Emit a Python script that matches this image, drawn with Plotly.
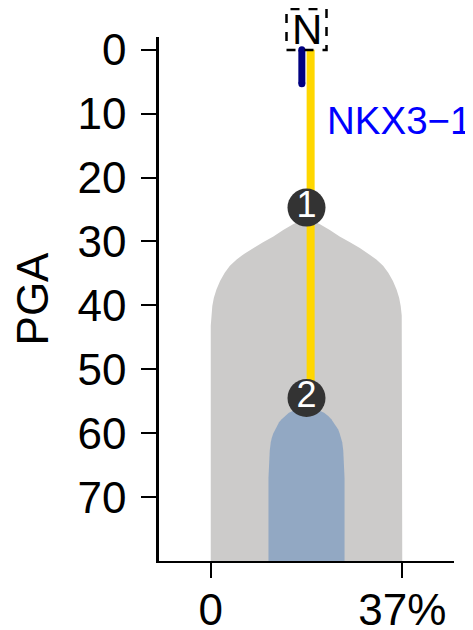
import plotly.graph_objects as go

# ---- data ----
x_max = 37.0                      # clone-fraction axis max (%)
x_tickvals = [0, 37]
x_ticktext = ["0", "37%"]
y_tickvals = [0, 10, 20, 30, 40, 50, 60, 70]
pga_max = 80

# gray clone (clone 1) profile: PGA vs half-width (% units)
gray_pga = [26.3, 27.3, 28.2, 29.2, 30.1, 31.0, 31.9, 32.8, 33.8, 34.9, 36.2, 37.5, 38.8, 40.1, 41.6, 43.2, 45.0, 80.0]
gray_hw = [0.0, 2.6, 4.5, 6.4, 8.4, 10.3, 12.0, 13.5, 14.8, 15.8, 16.7, 17.4, 17.9, 18.2, 18.4, 18.5, 18.5, 18.5]

# blue clone (clone 2) profile
blue_pga = [55.9, 56.2, 56.8, 57.3, 57.8, 58.3, 58.9, 59.4, 60.0, 60.7, 61.4, 62.7, 64.1, 67.0, 80.0]
blue_hw = [0.0, 1.8, 3.4, 4.2, 4.8, 5.3, 5.7, 6.1, 6.4, 6.7, 6.9, 7.1, 7.2, 7.35, 7.35]

# lineage lines
yellow_x = 19.3
yellow_pga = [0.0, 54.5]
navy_x = 17.6
navy_pga = [0.0, 5.3]

# clone event markers
event_x = [18.5, 18.5]
event_pga = [24.7, 54.5]
event_labels = ["1", "2"]

gene_label = "NKX3\u22121"
gene_x = 22.0
gene_pga = 11.1

root_label = "N"

center = x_max / 2


def outline(pga, hw):
    xs = [center - h for h in hw] + [center + h for h in reversed(hw)]
    ys = list(pga) + list(reversed(pga))
    return xs, ys


FONT = "Liberation Sans, Arial, sans-serif"

# page body has an 8px margin, so the figure is sized to fit the window
PAGE_OFF = 8
WIN_W, WIN_H = 473, 630
FIG_W, FIG_H = WIN_W - PAGE_OFF, WIN_H - PAGE_OFF
# plot area edges in window pixels
plot_l, plot_r, plot_t, plot_b = 159, 454, 37, 561
x_lo, x_hi = -10, 47

fig = go.Figure()

gx, gy = outline(gray_pga, gray_hw)
fig.add_trace(go.Scatter(x=gx, y=gy, fill="toself", fillcolor="#CCCBCA",
                         line=dict(width=0, color="#CCCBCA"),
                         mode="lines", hoverinfo="skip", showlegend=False))
bx, by = outline(blue_pga, blue_hw)
fig.add_trace(go.Scatter(x=bx, y=by, fill="toself", fillcolor="#92A8C3",
                         line=dict(width=0, color="#92A8C3"),
                         mode="lines", hoverinfo="skip", showlegend=False))

fig.add_trace(go.Scatter(x=[yellow_x] * len(yellow_pga), y=yellow_pga, mode="lines",
                         line=dict(color="#FFD700", width=8), hoverinfo="skip", showlegend=False))
fig.add_trace(go.Scatter(x=[navy_x] * len(navy_pga), y=navy_pga, mode="lines+markers",
                         line=dict(color="#000080", width=7),
                         marker=dict(color="#000080", size=7, line=dict(width=0)),
                         hoverinfo="skip", showlegend=False))

fig.add_trace(go.Scatter(x=event_x, y=event_pga, mode="markers+text",
                         marker=dict(color="#333333", size=38, line=dict(width=0)),
                         text=event_labels, textposition="middle center",
                         textfont=dict(color="white", size=36, family=FONT),
                         hoverinfo="skip", showlegend=False))

fig.add_annotation(x=gene_x, y=gene_pga, xref="x", yref="y", text=gene_label,
                   showarrow=False, xanchor="left", yanchor="middle",
                   font=dict(color="#0000FF", size=38.5, family=FONT))

# root label above the plotting area
root_px_y = 29.5
root_paper_y = (plot_b - root_px_y) / (plot_b - plot_t)
fig.add_annotation(x=center, y=root_paper_y, xref="x", yref="paper", text=root_label,
                   showarrow=False, xanchor="center", yanchor="middle",
                   font=dict(color="black", size=42, family=FONT), borderpad=0)
# dashed frame around the root label (paper coords)
cx_paper = (center - x_lo) / (x_hi - x_lo)
half_w = 20 / (plot_r - plot_l)
half_h = 20.5 / (plot_b - plot_t)
fig.add_shape(type="rect", xref="paper", yref="paper",
              x0=cx_paper - half_w, x1=cx_paper + half_w,
              y0=root_paper_y - half_h, y1=root_paper_y + half_h,
              line=dict(color="black", width=2.5, dash="dash"), layer="above")

fig.update_layout(
    width=FIG_W, height=FIG_H,
    margin=dict(l=plot_l - PAGE_OFF, r=WIN_W - plot_r, t=plot_t - PAGE_OFF, b=WIN_H - plot_b, pad=0),
    paper_bgcolor="white", plot_bgcolor="white",
    font=dict(family=FONT, color="black"),
    xaxis=dict(range=[x_lo, x_hi], tickvals=x_tickvals, ticktext=x_ticktext,
               showgrid=False, zeroline=False, showline=True, linecolor="black",
               linewidth=2.2, ticks="outside", ticklen=15, tickwidth=2, tickcolor="black",
               tickfont=dict(size=44, family=FONT), ticklabelstandoff=-6,
               automargin=False, fixedrange=True),
    yaxis=dict(range=[pga_max, -2], tickvals=y_tickvals,
               showgrid=False, zeroline=False, showline=True, linecolor="black",
               linewidth=2.5, ticks="outside", ticklen=15, tickwidth=2, tickcolor="black",
               tickfont=dict(size=44, family=FONT), ticklabelstandoff=6,
               title=dict(text="PGA", font=dict(size=44, family=FONT), standoff=34),
               automargin=False, fixedrange=True),
)

fig.write_html("out.html")
